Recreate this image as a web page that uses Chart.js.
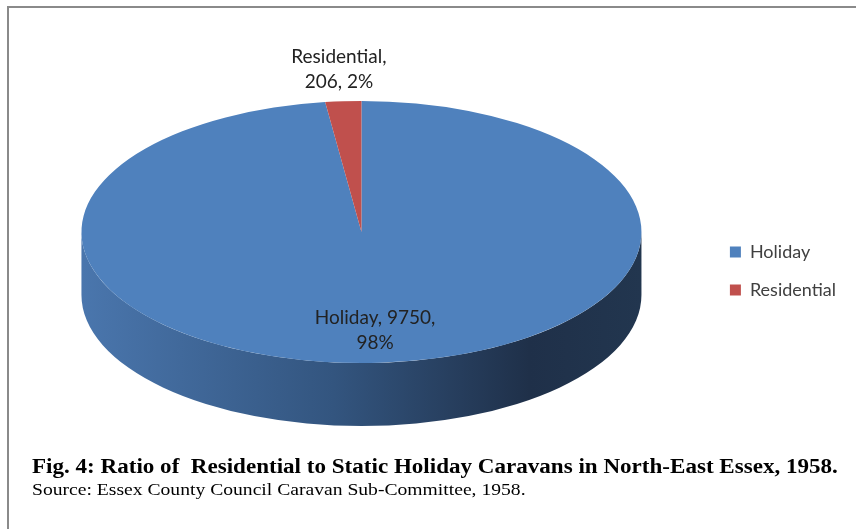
<!DOCTYPE html>
<html>
<head>
<meta charset="utf-8">
<title>Fig. 4</title>
<script src="https://cdn.jsdelivr.net/npm/chart.js@4.4.1/dist/chart.umd.min.js"></script>
<style>
    body { margin: 0; background: #fff; }
    #quadro { position: relative; width: 856px; height: 529px; overflow: hidden; }
    #moldura { position: absolute; left: 7px; top: 6px; width: 900px; height: 600px;
               border-top: 2px solid #8a8a8a; border-left: 2px solid #8a8a8a; }
    #grafico { position: absolute; left: 0; top: 0; }
    .legenda { position: absolute; left: 32px; white-space: nowrap; color: #000;
               font-family: 'Liberation Serif', serif; transform-origin: 0 0; }
    #titulo { top: 455px; font-size: 20px; font-weight: bold; }
    #fonte { top: 481px; font-size: 16px; }
</style>
</head>
<body>
<div id="quadro">
    <div id="moldura"></div>
    <canvas id="grafico" width="856" height="529"></canvas>
    <div class="legenda" id="titulo" data-largura="806">Fig. 4: Ratio of&nbsp; Residential to Static Holiday Caravans in North-East Essex, 1958.</div>
    <div class="legenda" id="fonte" data-largura="494">Source: Essex County Council Caravan Sub-Committee, 1958.</div>
</div>
<script>
const categorias = ['Holiday', 'Residential'];
const caravanas = [9750, 206];
const cores = ['#4f81bd', '#c0504d'];
const rotuloDentro = [true, false];

// visual da pizza 3D (elipse achatada + lateral)
const ACHATAMENTO = 0.468;
const ESPESSURA = 63;

const pizza3d = {
    id: 'pizza3d',
    beforeDatasetsDraw(chart) {
        const arco = chart.getDatasetMeta(0).data[0];
        const { x, y, outerRadius } = arco.getProps(['x', 'y', 'outerRadius'], true);
        const rx = outerRadius;
        const ry = rx * ACHATAMENTO;
        const ctx = chart.ctx;

        const grad = ctx.createLinearGradient(x - rx, 0, x + rx, 0);
        grad.addColorStop(0, '#4a76ad');
        grad.addColorStop(0.45, '#33557f');
        grad.addColorStop(0.8, '#1f3049');
        grad.addColorStop(1, '#22364f');

        ctx.save();
        ctx.fillStyle = grad;
        ctx.beginPath();
        ctx.ellipse(x, y, rx, ry, 0, 0, Math.PI);
        ctx.ellipse(x, y + ESPESSURA, rx, ry, 0, Math.PI, 0, true);
        ctx.closePath();
        ctx.fill();

        // achata o desenho das fatias
        ctx.translate(x, y);
        ctx.scale(1, ACHATAMENTO);
        ctx.translate(-x, -y);
    },
    afterDatasetsDraw(chart) {
        const ctx = chart.ctx;
        ctx.restore();

        const total = caravanas.reduce((acc, v) => acc + v, 0);
        ctx.save();
        ctx.font = '19px Lato';
        ctx.fillStyle = '#222';
        ctx.textAlign = 'center';
        ctx.textBaseline = 'middle';
        chart.getDatasetMeta(0).data.forEach((arco, i) => {
            const { x, y, startAngle, endAngle, outerRadius } =
                arco.getProps(['x', 'y', 'startAngle', 'endAngle', 'outerRadius'], true);
            const meio = (startAngle + endAngle) / 2;
            const f = rotuloDentro[i] ? 0.75 : 1.24;
            const px = x + Math.cos(meio) * outerRadius * f;
            const py = y + Math.sin(meio) * outerRadius * ACHATAMENTO * f;
            const pct = Math.round(caravanas[i] / total * 100) + '%';
            const linhas = rotuloDentro[i]
                ? [`${categorias[i]}, ${caravanas[i]},`, pct]
                : [`${categorias[i]},`, `${caravanas[i]}, ${pct}`];
            ctx.fillText(linhas[0], px, py - 12.5);
            ctx.fillText(linhas[1], px, py + 12.5);
        });
        ctx.restore();
    }
};

new Chart(document.getElementById('grafico'), {
    type: 'pie',
    data: {
        labels: categorias,
        datasets: [{
            data: caravanas,
            backgroundColor: cores,
            borderWidth: 0,
            radius: 280,
            clip: false,
            hoverOffset: 0
        }]
    },
    options: {
        responsive: false,
        animation: false,
        events: [],
        layout: { padding: { top: 145, bottom: 210, left: 13, right: 10 } },
        plugins: {
            legend: {
                position: 'right',
                align: 'end',
                labels: {
                    boxWidth: 11,
                    boxHeight: 11,
                    padding: 20,
                    color: '#404040',
                    font: { family: 'Lato', size: 18 }
                }
            },
            tooltip: { enabled: false }
        }
    },
    plugins: [pizza3d]
});

// ajusta a largura das legendas do rodapé ao original
document.querySelectorAll('.legenda').forEach(el => {
    const alvo = parseFloat(el.dataset.largura);
    el.style.transform = `scaleX(${alvo / el.offsetWidth})`;
});
</script>
</body>
</html>
